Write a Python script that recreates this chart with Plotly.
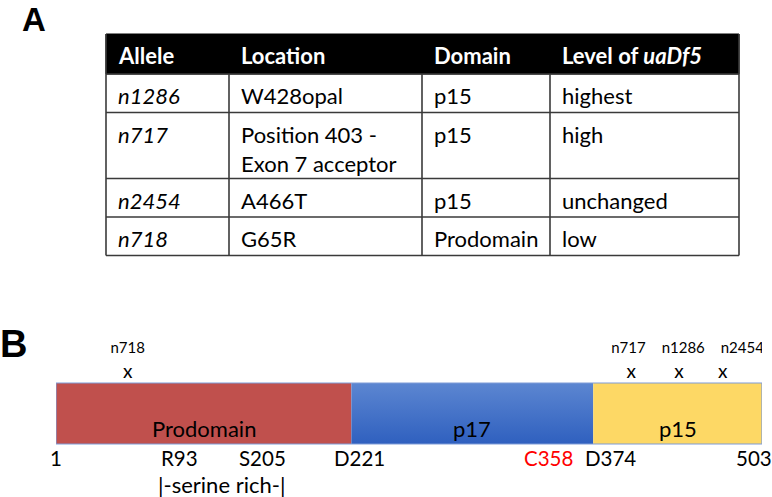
import plotly.graph_objects as go

W, H = 772, 497

# ---------------- Panel A: table data ----------------
headers = ["Allele", "Location", "Domain", "Level of <i>uaDf5</i>"]
alleles = ["n1286", "n717", "n2454", "n718"]
locations = ["W428opal", "Position 403 -<br>Exon 7 acceptor", "A466T", "G65R"]
domains = ["p15", "p15", "p15", "Prodomain"]
levels = ["highest", "high", "unchanged", "low"]

# ---------------- Panel B: protein schematic data ----------------
domain_names = ["Prodomain", "p17", "p15"]
domain_start = [1, 211, 383]      # schematic positions (as drawn)
domain_end = [211, 383, 503]
domain_colors = ["#C0504D", None, "#FDD865"]

site_labels = ["1", "R93", "S205", "D221", "C358", "D374", "503"]
site_pos = [1, 89, 148, 217, 351, 395, 497]
site_colors = ["black", "black", "black", "black", "#FF0000", "black", "black"]

mut_names = ["n718", "n717", "n1286", "n2454"]
mut_pos = [52, 410, 444, 475]          # position of the "x" marks
mut_label_pos = [52, 408, 447, 489]    # position of the allele names

FONT = "Lato"


def fx(px):
    return px / W


def fy(py):
    return 1 - py / H


fig = go.Figure()
shapes = []
annotations = []

# ---- Table geometry ----
col_edges = [106, 229, 422, 550, 739]
table_top = 34
header_h = 40
row_h = []
for loc in locations:
    n = loc.count("<br>") + 1
    row_h.append(38.5 + 27.5 * (n - 1))
row_edges = [table_top, table_top + header_h]
for h in row_h:
    row_edges.append(row_edges[-1] + h)

line_col = "#3a3a3a"
# header fill
shapes.append(dict(type="rect", xref="paper", yref="paper",
                   x0=fx(col_edges[0]), x1=fx(col_edges[-1]),
                   y0=fy(row_edges[0]), y1=fy(row_edges[1]),
                   fillcolor="black", line=dict(color="black", width=1)))
# horizontal lines
for yv in row_edges[1:]:
    shapes.append(dict(type="line", xref="paper", yref="paper",
                       x0=fx(col_edges[0]), x1=fx(col_edges[-1]),
                       y0=fy(yv), y1=fy(yv),
                       line=dict(color=line_col, width=1.6)))
# vertical lines
for i, xv in enumerate(col_edges):
    top = row_edges[0] if i in (0, len(col_edges) - 1) else row_edges[1]
    shapes.append(dict(type="line", xref="paper", yref="paper",
                       x0=fx(xv), x1=fx(xv), y0=fy(top), y1=fy(row_edges[-1]),
                       line=dict(color=line_col, width=1.6)))

pad_x = 10
pad_y = 6
# header text
for j, htxt in enumerate(headers):
    annotations.append(dict(xref="paper", yref="paper", x=fx(col_edges[j] + pad_x),
                            y=fy(row_edges[0] + pad_y), xanchor="left", yanchor="top",
                            text="<b>" + htxt + "</b>", showarrow=False,
                            font=dict(family=FONT, size=22, color="white"), align="left"))
# body text
for i in range(len(alleles)):
    cells = ["<i>" + alleles[i] + "</i>", locations[i], domains[i], levels[i]]
    for j, ctxt in enumerate(cells):
        annotations.append(dict(xref="paper", yref="paper", x=fx(col_edges[j] + pad_x),
                                y=fy(row_edges[i + 1] + pad_y), xanchor="left", yanchor="top",
                                text=ctxt, showarrow=False, align="left",
                                font=dict(family=FONT, size=22, color="black")))

# Panel labels
annotations.append(dict(xref="paper", yref="paper", x=fx(34), y=1, text="<b>A</b>",
                        showarrow=False, xanchor="center", yanchor="top", borderpad=0,
                        font=dict(family="Liberation Sans", size=33, color="black")))
annotations.append(dict(xref="paper", yref="paper", x=fx(13), y=fy(344), text="<b>B</b>",
                        showarrow=False, xanchor="center", yanchor="middle",
                        font=dict(family="Liberation Sans", size=38, color="black")))

# ---- Protein bar ----
bar_top, bar_bot = 383, 444
for name, s, e, c in zip(domain_names, domain_start, domain_end, domain_colors):
    tr = dict(x=[s, e, e, s, s], y=[bar_top, bar_top, bar_bot, bar_bot, bar_top],
              mode="lines", fill="toself", line=dict(width=0),
              hoverinfo="skip", showlegend=False)
    if c is None:
        tr["fillgradient"] = dict(type="vertical",
                                  colorscale=[[0, "#2F60BF"], [1, "#5C86D1"]])
    else:
        tr["fillcolor"] = c
    fig.add_trace(go.Scatter(**tr))
    annotations.append(dict(xref="x", yref="y", x=(s + e) / 2, y=428, text=name,
                            showarrow=False, xanchor="center", yanchor="middle",
                            font=dict(family=FONT, size=22, color="black")))

shapes.append(dict(type="rect", xref="x", yref="y", x0=domain_start[0], x1=domain_end[-1],
                   y0=bar_top, y1=bar_bot, line=dict(color="#7F9CD8", width=1.2)))

for lab, p, c in zip(site_labels, site_pos, site_colors):
    annotations.append(dict(xref="x", yref="y", x=p, y=458, text=lab, showarrow=False,
                            xanchor="center", yanchor="middle",
                            font=dict(family=FONT, size=20.5, color=c)))
annotations.append(dict(xref="x", yref="y", x=(site_pos[1] + site_pos[2]) / 2, y=484,
                        text="|-serine rich-|", showarrow=False, xanchor="center",
                        yanchor="middle", font=dict(family=FONT, size=22, color="black")))

fig.add_trace(go.Scatter(x=mut_label_pos, y=[349] * len(mut_pos), mode="text",
                         text=mut_names,
                         textfont=dict(family=FONT, size=15, color="black"),
                         hoverinfo="skip", showlegend=False))
fig.add_trace(go.Scatter(x=mut_pos, y=[373] * len(mut_pos), mode="text",
                         text=["x"] * len(mut_pos),
                         textfont=dict(family=FONT, size=19, color="black"),
                         hoverinfo="skip", showlegend=False))

fig.update_layout(
    width=W, height=H, margin=dict(l=0, r=0, t=0, b=0),
    paper_bgcolor="white", plot_bgcolor="white",
    xaxis=dict(domain=[56 / W, 762 / W], range=[1, 503], visible=False, fixedrange=True),
    yaxis=dict(domain=[0, 1], range=[H, 0], visible=False, fixedrange=True),
    shapes=shapes, annotations=annotations,
)

fig.write_html("out.html", config={"displayModeBar": False},
               post_script="document.body.style.margin='0';document.body.style.overflow='hidden';")
